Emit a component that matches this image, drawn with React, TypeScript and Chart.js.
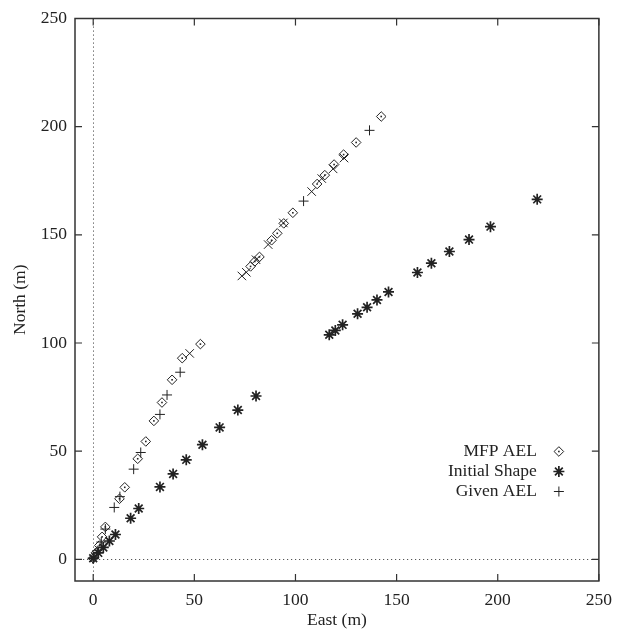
import React, { useEffect, useRef } from 'react';
import { Chart, registerables } from 'chart.js';
Chart.register(...registerables);

const xTickValues = [0, 50, 100, 150, 200, 250];
const yTickValues = [0, 50, 100, 150, 200, 250];

const seriesLabels = ['MFP AEL', 'Initial Shape', 'Given AEL'];

const mfpEast = [0, 1.3, 3, 4.4, 6, 13, 15.6, 22, 26, 30, 34, 39, 44, 53,
  77.8, 79.9, 82.2, 88.2, 91, 94.2, 98.7, 110.7, 114.5, 119.1, 123.8, 130, 142.4];
const mfpNorth = [0.5, 3, 6.4, 10.4, 15, 28, 33.3, 46.5, 54.5, 64, 72.5, 83, 93, 99.5,
  135.4, 137.7, 139.8, 147.5, 150.7, 155.3, 160.2, 173.5, 177.6, 182.5, 187.1, 192.7, 204.7];

const initEast = [0, 2.5, 5, 8, 11, 18.5, 22.5, 33, 39.5, 46, 54, 62.5, 71.5, 80.5,
  116.7, 119.7, 123.3, 130.7, 135.4, 140.3, 146, 160.3, 167.2, 176.1, 185.8, 196.4, 219.5];
const initNorth = [0.5, 3, 5.5, 8.5, 11.5, 19, 23.5, 33.5, 39.5, 46, 53, 61, 69, 75.5,
  103.8, 105.8, 108.4, 113.5, 116.5, 119.9, 123.6, 132.6, 136.9, 142.3, 147.8, 153.8, 166.4];

const givenEast = [0.5, 2, 4, 6, 10.4, 13.2, 20, 23.5, 33, 36.5, 43, 104, 136.6];
const givenNorth = [1, 4, 8, 14, 24, 29, 41.7, 49.4, 67, 76, 86.5, 165.6, 198.3];

const otherEast = [47.7, 73.5, 75.7, 80.5, 86.5, 94, 108, 113, 118.6, 124];
const otherNorth = [95.2, 131, 132.7, 138.5, 145.5, 155.5, 170, 176, 180.5, 185.5];

const toPts = (xs: number[], ys: number[]) => xs.map((x, i) => ({ x, y: ys[i] }));

const INK = '#222';
const FONT = '"Liberation Serif", "Times New Roman", serif';
const FS = 17.5;

const framePlugin = {
  id: 'frame',
  beforeDatasetsDraw(chart: any) {
    const { ctx, chartArea: a, scales } = chart;
    const x0 = scales.x.getPixelForValue(0);
    const y0 = scales.y.getPixelForValue(0);
    ctx.save();
    ctx.strokeStyle = '#555';
    ctx.lineWidth = 1;
    ctx.setLineDash([1.2, 2.8]);
    ctx.beginPath();
    ctx.moveTo(Math.round(x0) + 0.5, a.top);
    ctx.lineTo(Math.round(x0) + 0.5, a.bottom);
    ctx.moveTo(a.left, Math.round(y0) + 0.5);
    ctx.lineTo(a.right, Math.round(y0) + 0.5);
    ctx.stroke();
    ctx.restore();
  },
  afterDatasetsDraw(chart: any) {
    const { ctx } = chart;
    const meta = chart.getDatasetMeta(0);
    ctx.save();
    ctx.fillStyle = INK;
    meta.data.forEach((el: any) => {
      ctx.fillRect(el.x - 0.8, el.y - 0.8, 1.6, 1.6);
    });
    ctx.restore();
  },
  afterDraw(chart: any) {
    const { ctx, chartArea: a, scales } = chart;
    const tl = 7;
    ctx.save();
    ctx.strokeStyle = '#333';
    ctx.lineWidth = 1.5;
    ctx.strokeRect(a.left, a.top, a.right - a.left, a.bottom - a.top);
    ctx.lineWidth = 1.2;
    ctx.beginPath();
    xTickValues.forEach((v) => {
      const px = scales.x.getPixelForValue(v);
      ctx.moveTo(px, a.bottom);
      ctx.lineTo(px, a.bottom - tl);
      ctx.moveTo(px, a.top);
      ctx.lineTo(px, a.top + tl);
    });
    yTickValues.forEach((v) => {
      const py = scales.y.getPixelForValue(v);
      ctx.moveTo(a.left, py);
      ctx.lineTo(a.left + tl, py);
      ctx.moveTo(a.right, py);
      ctx.lineTo(a.right - tl, py);
    });
    ctx.stroke();

    // legend
    const textRight = a.right - 62;
    const symX = a.right - 40;
    const rowY = [a.top + 433, a.top + 453, a.top + 473];
    ctx.fillStyle = INK;
    ctx.font = `${FS}px ${FONT}`;
    ctx.textAlign = 'right';
    ctx.textBaseline = 'middle';
    seriesLabels.forEach((t, i) => ctx.fillText(t, textRight, rowY[i]));
    ctx.strokeStyle = INK;
    ctx.lineWidth = 1;
    // diamond
    let y = rowY[0], r = 4.8;
    ctx.beginPath();
    ctx.moveTo(symX, y - r); ctx.lineTo(symX + r, y); ctx.lineTo(symX, y + r); ctx.lineTo(symX - r, y); ctx.closePath();
    ctx.stroke();
    ctx.fillRect(symX - 0.8, y - 0.8, 1.6, 1.6);
    // star
    y = rowY[1]; r = 5.5;
    ctx.lineWidth = 1.7;
    ctx.beginPath();
    ctx.moveTo(symX - r, y); ctx.lineTo(symX + r, y);
    ctx.moveTo(symX, y - r); ctx.lineTo(symX, y + r);
    const d = r * 0.7071;
    ctx.moveTo(symX - d, y - d); ctx.lineTo(symX + d, y + d);
    ctx.moveTo(symX - d, y + d); ctx.lineTo(symX + d, y - d);
    ctx.stroke();
    // plus
    y = rowY[2]; r = 5;
    ctx.lineWidth = 1;
    ctx.beginPath();
    ctx.moveTo(symX - r, y); ctx.lineTo(symX + r, y);
    ctx.moveTo(symX, y - r); ctx.lineTo(symX, y + r);
    ctx.stroke();
    ctx.restore();
  },
};

export default function App() {
  const ref = useRef<HTMLCanvasElement | null>(null);
  useEffect(() => {
    document.body.style.margin = '0';
    const canvas = ref.current;
    if (!canvas) return;
    const chart = new Chart(canvas, {
      type: 'scatter',
      data: {
        datasets: [
          {
            label: seriesLabels[0],
            data: toPts(mfpEast, mfpNorth),
            pointStyle: 'rectRot',
            pointRadius: 4.8,
            borderColor: INK,
            backgroundColor: 'rgba(0,0,0,0)',
            borderWidth: 1,
          },
          {
            label: seriesLabels[1],
            data: toPts(initEast, initNorth),
            pointStyle: 'star',
            pointRadius: 5.5,
            borderColor: INK,
            backgroundColor: INK,
            borderWidth: 1.7,
          },
          {
            label: seriesLabels[2],
            data: toPts(givenEast, givenNorth),
            pointStyle: 'cross',
            pointRadius: 5,
            borderColor: INK,
            borderWidth: 1,
          },
          {
            label: '',
            data: toPts(otherEast, otherNorth),
            pointStyle: 'crossRot',
            pointRadius: 6,
            borderColor: INK,
            borderWidth: 1,
          },
        ],
      },
      options: {
        animation: false,
        responsive: true,
        maintainAspectRatio: false,
        layout: { padding: { top: 16, right: 21, left: 0, bottom: 0 } },
        plugins: { legend: { display: false }, tooltip: { enabled: false } },
        scales: {
          x: {
            type: 'linear',
            min: -9,
            max: 250,
            afterBuildTicks: (s: any) => { s.ticks = xTickValues.map((v) => ({ value: v })); },
            afterFit: (s: any) => { s.height = 53; },
            grid: { display: false, drawTicks: false },
            border: { display: false },
            ticks: { color: INK, font: { family: FONT, size: FS }, padding: 9, maxRotation: 0 },
            title: { display: true, text: 'East (m)', color: INK, font: { family: FONT, size: FS }, padding: { top: 0, bottom: 3.5 } },
          },
          y: {
            type: 'linear',
            min: -10,
            max: 250,
            afterBuildTicks: (s: any) => { s.ticks = yTickValues.map((v) => ({ value: v })); },
            afterFit: (s: any) => { s.width = 75; },
            grid: { display: false, drawTicks: false },
            border: { display: false },
            ticks: { color: INK, font: { family: FONT, size: FS }, padding: 8 },
            title: { display: true, text: 'North (m)', color: INK, font: { family: FONT, size: FS }, padding: { top: 9.5, bottom: 0 } },
          },
        },
      },
      plugins: [framePlugin],
    });
    return () => chart.destroy();
  }, []);
  return (
    <div style={{ width: 621, height: 634, position: 'relative', background: '#fff' }}>
      <canvas ref={ref} />
    </div>
  );
}
